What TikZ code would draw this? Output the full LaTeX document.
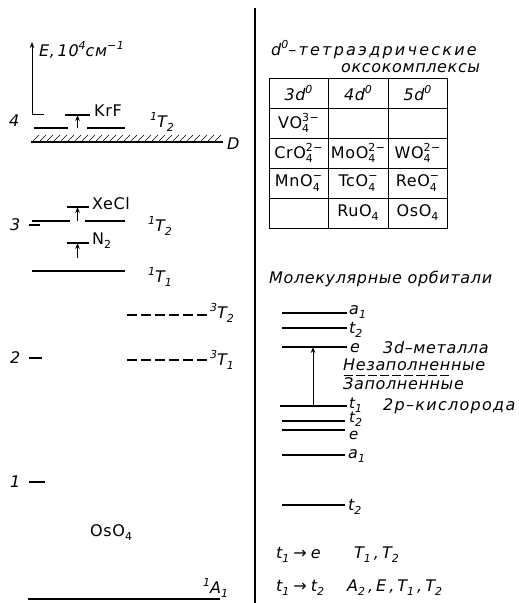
\documentclass[tikz,border=0pt]{standalone}
\usepackage{fontspec}
\setmainfont{DejaVu Sans}[LetterSpace=4]
\usetikzlibrary{arrows.meta}
\newcommand\fsN{\fontsize{16}{16}\selectfont}
\newcommand\fsM{\fontsize{15}{15}\selectfont}
\newcommand\fsS{\fontsize{11}{11}\selectfont}
\newcommand\lsb[1]{\raisebox{-0.45ex}{\fsS #1}}
\newcommand\lsp[1]{\raisebox{0.8ex}{\fsS #1}}
\newcommand\lboth[2]{\rlap{\raisebox{-0.5ex}{\fsS #1}}\raisebox{0.85ex}{\fsS #2}}
\newcommand\cma{\hspace{3pt},\hspace{3pt}}
\tikzset{
 lvl/.style={line width=1.2pt},
 lbl/.style={font=\fsN\itshape, inner sep=0pt, anchor=west},
 slbl/.style={font=\fsM\itshape, inner sep=0pt, anchor=west},
 chem/.style={font=\fsN, inner sep=0pt, anchor=west},
 cellhead/.style={font=\fsN\itshape, inner sep=0pt},
 cell/.style={font=\fsN, inner sep=0pt},
 up/.style={-{Stealth[length=6pt,width=4.5pt]}, line width=0.9pt},
 dsh/.style={line width=1.1pt, dash pattern=on 10pt off 4pt},
 tick/.style={line width=1.1pt},
}
\begin{document}
\begin{tikzpicture}[x=1pt,y=-1pt]
\useasboundingbox (0,0) rectangle (519,603);
% divider
\coordinate (divT) at (255,8); \coordinate (divB) at (255,603);
\draw[line width=1.2pt] (divT) -- (divB);
% ---------------- left panel ----------------
\coordinate (ax0) at (32,114); \coordinate (axT) at (32,42); \coordinate (axR) at (44,114);
\draw[up] (ax0) -- (axT);
\draw[line width=1pt] (ax0) -- (axR);
\node[lbl] (elab) at (39,50) {E,\,10\lsp{4}см\lsp{−1}};
\node[lbl] (n4) at (9,121) {4};
% KrF
\coordinate (krfS1) at (65,115); \coordinate (krfS2) at (90,115);
\draw[lvl] (krfS1) -- (krfS2);
\coordinate (k1a) at (34,128); \coordinate (k1b) at (68,128);
\coordinate (k2a) at (87,128); \coordinate (k2b) at (125,128);
\draw[lvl] (k1a) -- (k1b); \draw[lvl] (k2a) -- (k2b);
\coordinate (krfA) at (77.5,128); \coordinate (krfB) at (77.5,115);
\draw[up] (krfA) -- (krfB);
\node[chem] (krf) at (94,111) {KrF};
\node[lbl] (t2a) at (150,122) {\lsp{1}T\lsb{2}};
% dissociation line
\coordinate (dL) at (31,142); \coordinate (dR) at (223,142);
\draw[line width=1.5pt] (dL) -- (dR);
\foreach \x in {33,40,...,215} \draw[line width=0.6pt] (\x,141) -- (\x+6,135);
\node[lbl] (dlab) at (227,144) {D};
% XeCl
\coordinate (xS1) at (67,207); \coordinate (xS2) at (89,207);
\draw[lvl] (xS1) -- (xS2);
\coordinate (x1a) at (32,221); \coordinate (x1b) at (70,221);
\coordinate (x2a) at (85,221); \coordinate (x2b) at (125,221);
\draw[lvl] (x1a) -- (x1b); \draw[lvl] (x2a) -- (x2b);
\coordinate (xA) at (77.5,221); \coordinate (xB) at (77.5,207);
\draw[up] (xA) -- (xB);
\node[chem] (xecl) at (92,204) {XeCl};
\node[lbl] (t2b) at (148,226) {\lsp{1}T\lsb{2}};
\node[lbl] (n3) at (10,225) {3};
\coordinate (tk3a) at (29,225); \coordinate (tk3b) at (40,225);
\draw[tick] (tk3a) -- (tk3b);
% N2
\coordinate (nS1) at (67,243); \coordinate (nS2) at (89,243);
\draw[lvl] (nS1) -- (nS2);
\coordinate (nA) at (77.5,258); \coordinate (nB) at (77.5,243);
\draw[up] (nA) -- (nB);
\node[chem] (n2lab) at (92,241) {N\lsb{2}};
% 1T1
\coordinate (t1a1) at (32,271); \coordinate (t1a2) at (125,271);
\draw[lvl] (t1a1) -- (t1a2);
\node[lbl] (t1a) at (148,277) {\lsp{1}T\lsb{1}};
% triplets
\coordinate (tt2a) at (127,315); \coordinate (tt2b) at (210,315);
\draw[dsh] (tt2a) -- (tt2b);
\node[lbl] (t2c) at (210,313) {\lsp{3}T\lsb{2}};
\node[lbl] (n2) at (10,358) {2};
\coordinate (tk2a) at (29,358); \coordinate (tk2b) at (42,358);
\draw[tick] (tk2a) -- (tk2b);
\coordinate (tt1a) at (127,360); \coordinate (tt1b) at (210,360);
\draw[dsh] (tt1a) -- (tt1b);
\node[lbl] (t1b) at (210,360) {\lsp{3}T\lsb{1}};
% 1
\node[lbl] (n1) at (10,482) {1};
\coordinate (tk1a) at (29,482); \coordinate (tk1b) at (45,482);
\draw[tick] (tk1a) -- (tk1b);
\node[chem] (oso4) at (90,533) {OsO\lsb{4}};
\node[lbl] (a1) at (203,588) {\lsp{1}A\lsb{1}};
\coordinate (g1) at (28,599); \coordinate (g2) at (220,599);
\draw[lvl] (g1) -- (g2);
% ---------------- right panel ----------------
\node[lbl, font=\fsN\itshape\addfontfeature{LetterSpace=14}] (ttl1) at (271,50) {d\lsp{0}–тетраэдрические};
\node[lbl] (ttl2) at (341,68) {оксокомплексы};
% table
\draw[line width=1pt] (269,78) rectangle (447,228);
\foreach \y in {108,138,168,198} \draw[line width=1pt] (269,\y) -- (447,\y);
\foreach \x in {328,388} \draw[line width=1pt] (\x,78) -- (\x,228);
\node[cellhead] (h3) at (298.5,93) {3d\lsp{0}};
\node[cellhead] (h4) at (358,93) {4d\lsp{0}};
\node[cellhead] (h5) at (417.5,93) {5d\lsp{0}};
\node[cell] (vo) at (298.5,123) {VO\lboth{4}{3−}};
\node[cell] (cro) at (298.5,153) {CrO\lboth{4}{2−}};
\node[cell] (moo) at (358,153) {MoO\lboth{4}{2−}};
\node[cell] (wo) at (417.5,153) {WO\lboth{4}{2−}};
\node[cell] (mno) at (298.5,183) {MnO\lboth{4}{−}};
\node[cell] (tco) at (358,183) {TcO\lboth{4}{−}};
\node[cell] (reo) at (417.5,183) {ReO\lboth{4}{−}};
\node[cell] (ruo) at (358,213) {RuO\lsb{4}};
\node[cell] (oso) at (417.5,213) {OsO\lsb{4}};
% MO diagram
\node[lbl] (mo) at (269,279) {Молекулярные орбитали};
\coordinate (m1a) at (282,313); \coordinate (m1b) at (347,313);
\coordinate (m2a) at (282,328); \coordinate (m2b) at (347,328);
\coordinate (m3a) at (282,347); \coordinate (m3b) at (347,347);
\coordinate (m4a) at (280,406); \coordinate (m4b) at (347,406);
\coordinate (m5a) at (282,421); \coordinate (m5b) at (345,421);
\coordinate (m6a) at (282,430); \coordinate (m6b) at (345,430);
\coordinate (m7a) at (282,455); \coordinate (m7b) at (345,455);
\coordinate (m8a) at (282,505); \coordinate (m8b) at (345,505);
\foreach \i in {1,...,8} \draw[lvl] (m\i a) -- (m\i b);
\coordinate (arA) at (313,406); \coordinate (arB) at (313,347);
\draw[up] (arA) -- (arB);
\node[lbl] (la1) at (349,312) {a\lsb{1}};
\node[lbl] (lt2) at (349,330) {t\lsb{2}};
\node[lbl] (le) at (350,348) {e};
\node[lbl] (met) at (383,348) {3d–металла};
\node[lbl] (nez) at (343,365) {Незаполненные};
\coordinate (zl1) at (344,375); \coordinate (zl2) at (452,375);
\draw[line width=0.8pt, dash pattern=on 9pt off 3pt] (zl1) -- (zl2);
\node[lbl] (zap) at (343,384) {Заполненные};
\node[slbl] (lt1) at (349,405) {t\lsb{1}};
\node[lbl, font=\fsN\itshape\addfontfeature{LetterSpace=8}] (kis) at (383,406) {2p–кислорода};
\node[slbl] (lt2b) at (349,419) {t\lsb{2}};
\node[slbl] (leb) at (349,435) {e};
\node[lbl] (la1b) at (348,456) {a\lsb{1}};
\node[lbl] (lt2c) at (348,507) {t\lsb{2}};
\node[lbl] (tr1a) at (276,555) {t\lsb{1}\hspace{4pt}→\hspace{4pt}e};
\node[lbl] (tr1b) at (354,555) {T\lsb{1}\cma T\lsb{2}};
\node[lbl] (tr2a) at (276,588) {t\lsb{1}\hspace{4pt}→\hspace{4pt}t\lsb{2}};
\node[lbl] (tr2b) at (347,588) {A\lsb{2}\cma E\cma T\lsb{1}\cma T\lsb{2}};
\end{tikzpicture}
\end{document}
